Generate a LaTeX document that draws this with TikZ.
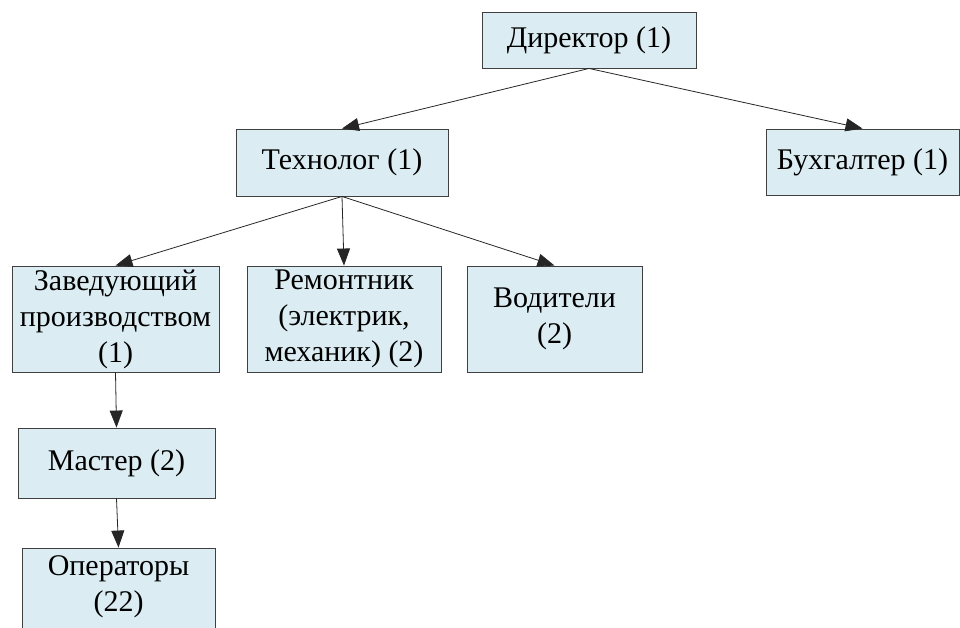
\documentclass[tikz,border=0pt]{standalone}
\usepackage{fontspec}
\setmainfont{Liberation Serif}
\usetikzlibrary{arrows.meta}
\definecolor{boxfill}{RGB}{219,237,243}

\begin{document}
\begin{tikzpicture}[x=1pt,y=-1pt,>={Triangle[length=17pt,width=13pt]}]
    \tikzstyle{post}=[rectangle,draw=black!75,fill=boxfill,line width=0.9pt,inner sep=0pt,align=center,font=\fontsize{30}{36}\selectfont]
    \tikzstyle{link}=[->,line width=0.8pt,black!85]
    \useasboundingbox (0,0) rectangle (960,628);
    \path
    % Top level
    (589,40)     node[post,minimum width=214pt,minimum height=56pt]  (director) {Директор (1)}

    % Second level
    (342,162.5)  node[post,minimum width=212pt,minimum height=67pt]  (technolog) {Технолог (1)}
    (862.5,162)  node[post,minimum width=193pt,minimum height=66pt]  (buhgalter) {Бухгалтер (1)}

    % Third level
    (115.5,319)  node[post,minimum width=207pt,minimum height=106pt] (zaveduyushchiy) {Заведующий\\производством\\(1)}
    (344,319)    node[post,minimum width=194pt,minimum height=106pt] (remontnik) {Ремонтник\\(электрик,\\механик) (2)}
    (554.5,319)  node[post,minimum width=175pt,minimum height=106pt] (voditeli) {Водители\\(2)}

    % Production line
    (116.5,463)  node[post,minimum width=197pt,minimum height=70pt]  (master) {Мастер (2)}
    (118.5,602)  node[post,minimum width=193pt,minimum height=108pt] (operatory) {}
    (operatory.north) node[below=5pt,align=center,font=\fontsize{30}{36}\selectfont] (operatory text) {Операторы\\(22)};

    % Link the posts
    \draw[link] (director.south)--(technolog.north);
    \draw[link] (director.south)--(buhgalter.north);
    \draw[link] (technolog.south)--(zaveduyushchiy.north);
    \draw[link] (technolog.south)--(remontnik.north);
    \draw[link] (technolog.south)--(voditeli.north);
    \draw[link] (zaveduyushchiy.south)--(master.north);
    \draw[link] (master.south)--(operatory.north);
\end{tikzpicture}
\end{document}
